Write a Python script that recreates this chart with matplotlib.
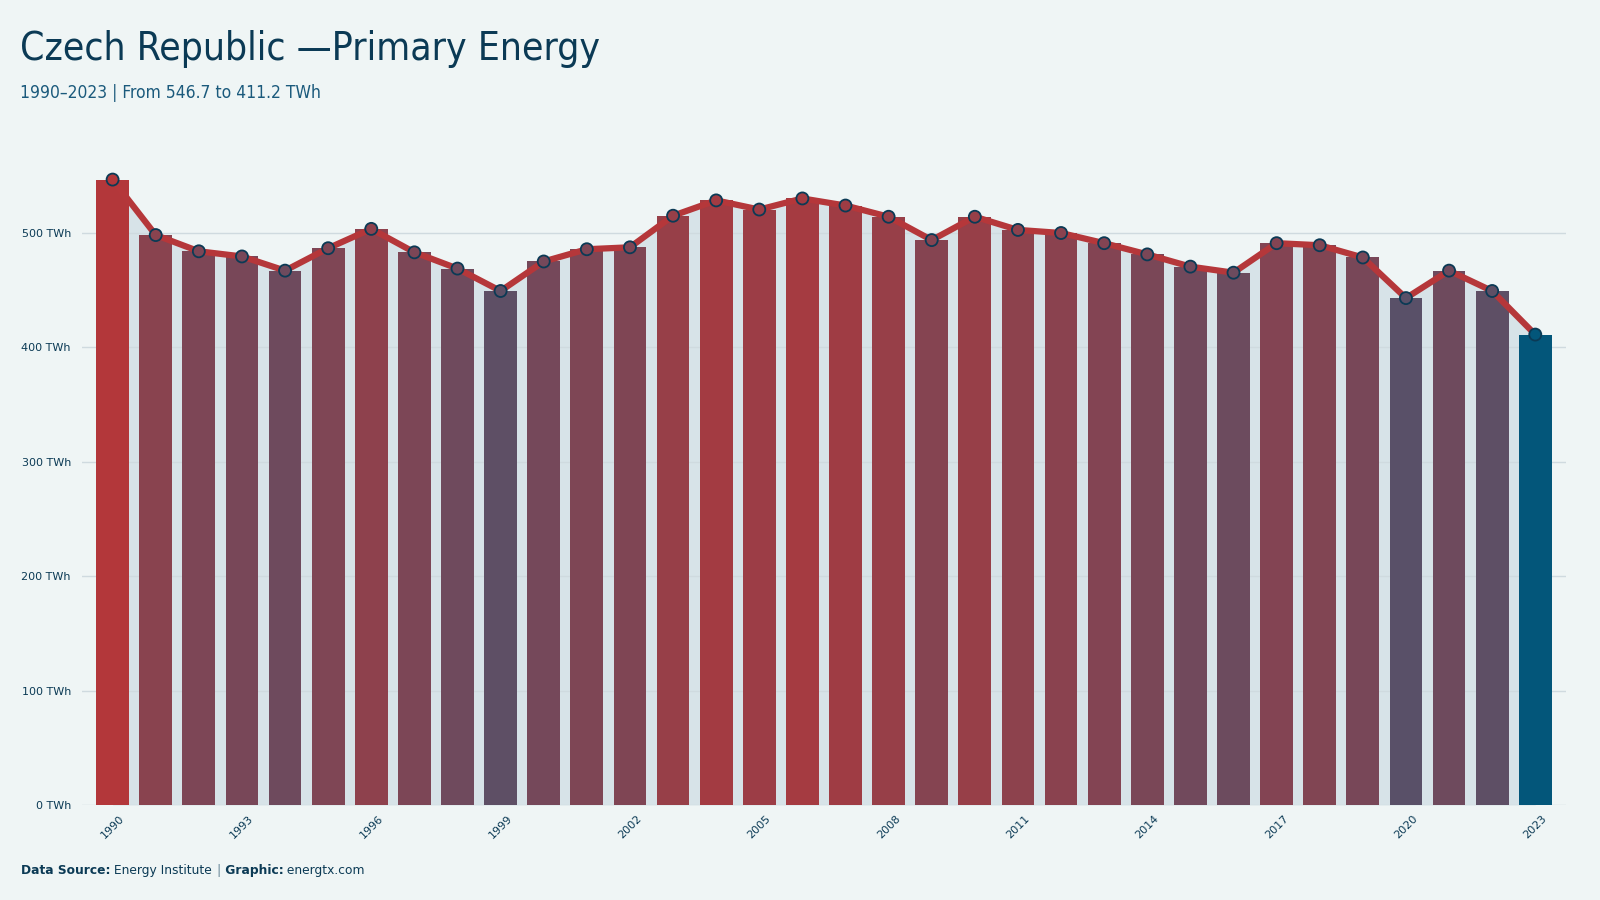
import matplotlib
matplotlib.use("Agg")
import matplotlib.pyplot as plt
import numpy as np
from matplotlib.colors import LinearSegmentedColormap, to_hex

years = list(range(1990, 2024))
values = [546.7, 498.2, 484.0, 479.5, 467.1, 486.7, 503.6, 483.1, 468.9, 449.3,
          475.1, 485.8, 487.5, 515.1, 528.5, 520.5, 530.2, 524.0, 514.2, 493.8,
          514.2, 502.7, 500.0, 491.1, 481.3, 470.6, 465.3, 491.1, 489.3, 478.6,
          443.1, 467.1, 449.3, 411.2]
yticks = [0, 100, 200, 300, 400, 500]
ytick_labels = [f"{v} TWh" for v in yticks]
xtick_years = list(range(1990, 2024, 3))

title = "Czech Republic \u2014Primary Energy"
subtitle = "1990\u20132023 | From 546.7 to 411.2 TWh"

BG = "#eff5f5"
DARK = "#0b3a55"
RED = "#b5373a"
BLUE = "#03567a"
AREA = "#d7e3e8"

cmap = LinearSegmentedColormap.from_list("g", ["#595068", "#b3373a"])
vmin = min(values[:-1]); vmax = max(values)
colors = [to_hex(cmap((v - vmin) / (vmax - vmin))) for v in values[:-1]] + [BLUE]

fig = plt.figure(figsize=(16, 9), dpi=100, facecolor=BG)
ax = fig.add_axes([0.05125, 0.1056, 0.9277, 0.7644])
ax.set_facecolor(BG)

x = np.arange(len(years))
ax.fill_between(x, values, 0, color=AREA, zorder=1, lw=0)
for yv in yticks:
    ax.axhline(yv, color="#cfdadf", lw=1.0, zorder=1.5)
ax.bar(x, values, width=0.76, color=colors, zorder=2)
ax.plot(x, values, color=RED, lw=4.5, zorder=3, solid_joinstyle="round")
ax.scatter(x, values, s=75, c=colors, edgecolors=DARK, linewidths=1.3, zorder=4)

ax.set_xlim(-0.71, len(years) - 1 + 0.72)
ax.set_ylim(0, 601.4)
ax.set_yticks(yticks)
ax.set_yticklabels(ytick_labels, fontsize=8, color=DARK)
ax.set_xticks([years.index(y) for y in xtick_years])
ax.set_xticklabels([str(y) for y in xtick_years], rotation=45, fontsize=8,
                   color=DARK, ha="center", va="top")
ax.tick_params(axis="both", length=0, pad=8)
ax.tick_params(axis="x", pad=6)
for s in ax.spines.values():
    s.set_visible(False)

fig.text(0.0125, 0.945, title, fontsize=28, color=DARK, va="center", ha="left",
         fontstretch="condensed", family="DejaVu Sans")
fig.text(0.0125, 0.897, subtitle, fontsize=12.5, color="#1b5a7c", va="center", ha="left",
         fontstretch="condensed", family="DejaVu Sans")

fs = 8.8
t1 = fig.text(0.0131, 0.033, "Data Source:", fontsize=fs, color=DARK, weight="bold", va="center")
t2 = ax.annotate(" Energy Institute ", xy=(1, 0.5), xycoords=t1, va="center", fontsize=fs,
                 color=DARK, annotation_clip=False)
t3 = ax.annotate("|", xy=(1, 0.5), xycoords=t2, va="center", fontsize=fs,
                 color="#8aa3b0", weight="bold", annotation_clip=False)
t4 = ax.annotate(" Graphic:", xy=(1, 0.5), xycoords=t3, va="center", fontsize=fs,
                 color=DARK, weight="bold", annotation_clip=False)
t5 = ax.annotate(" energtx.com", xy=(1, 0.5), xycoords=t4, va="center", fontsize=fs,
                 color=DARK, annotation_clip=False)

fig.savefig("out.png", dpi=100, facecolor=BG)
